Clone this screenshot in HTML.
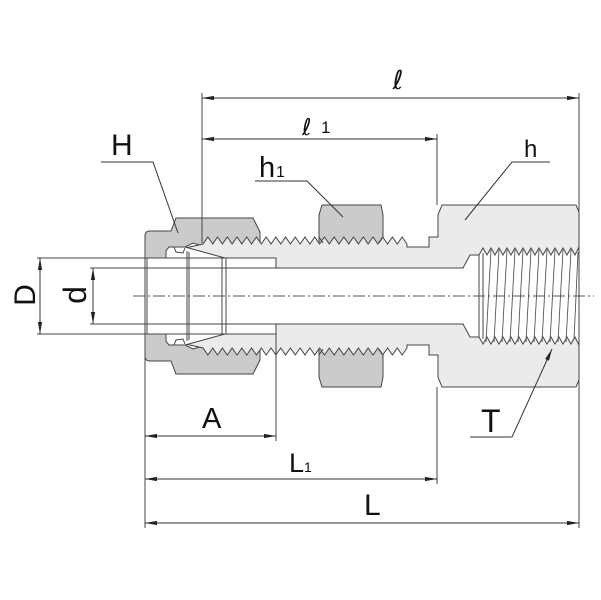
<!DOCTYPE html>
<html><head><meta charset="utf-8"><style>
html,body{margin:0;padding:0;background:#fff;}
svg{display:block;}
text{font-family:"Liberation Sans","DejaVu Sans",sans-serif;fill:#111;}
text.sc{font-family:"DejaVu Sans",sans-serif;}
</style></head><body>
<svg width="601" height="600" viewBox="0 0 601 600" xmlns="http://www.w3.org/2000/svg">
<defs>
<marker id="ar" markerUnits="userSpaceOnUse" markerWidth="12" markerHeight="6" viewBox="0 0 12 6" refX="12" refY="3" orient="auto-start-reverse">
<path d="M0,0.9 L12,3 L0,5.1 z" fill="#222"/>
</marker>
</defs>
<rect width="601" height="600" fill="#fff"/>

<!-- small nut h1 -->
<g fill="#cbcbcb" stroke="#444" stroke-width="1">
<path d="M319,244 L319,215 L322,205 L381,205 L383,215 L383,244 Z"/>
<path d="M319,348 L319,377 L322,387 L381,387 L383,377 L383,348 Z"/>
</g>

<!-- nut H -->
<g fill="#cbcbcb" stroke="#444" stroke-width="1">
<path d="M145,258 L145,236 Q145,231 150,231 L171,231 L176,218 L253,218 L260,232 L260,246 L203,246 L193,243 L185,247 L169,247 L166,251 L166,258 Z"/>
<path d="M145,334 L145,356 Q145,361 150,361 L171,361 L176,374 L253,374 L260,360 L260,346 L203,346 L193,349 L185,345 L169,345 L166,341 L166,334 Z"/>
</g>

<!-- body -->
<path fill="#ebebeb" stroke="#444" stroke-width="1" d="M185,248 L203,244 l4.857,-7 4.857,7 4.857,-7 4.857,7 4.857,-7 4.857,7 4.857,-7 4.857,7 4.857,-7 4.857,7 4.857,-7 4.857,7 4.857,-7 4.857,7 4.857,-7 4.857,7 4.857,-7 4.857,7 4.857,-7 4.857,7 4.857,-7 4.857,7 4.857,-7 4.857,7 4.857,-7 4.857,7 4.857,-7 4.857,7 4.857,-7 4.857,7 4.857,-7 4.857,7 4.857,-7 4.857,7 4.857,-7 4.857,7 4.857,-7 4.857,7 4.857,-7 4.857,7 4.857,-7 4.857,7 L407,247 L429,247 L429,237 L438,237 L438,215 L442,205 L576,205 L579,212 L579,380 L576,387 L442,387 L438,377 L438,355 L429,355 L429,345 L407,345 L407,348 l-4.857,7 -4.857,-7 -4.857,7 -4.857,-7 -4.857,7 -4.857,-7 -4.857,7 -4.857,-7 -4.857,7 -4.857,-7 -4.857,7 -4.857,-7 -4.857,7 -4.857,-7 -4.857,7 -4.857,-7 -4.857,7 -4.857,-7 -4.857,7 -4.857,-7 -4.857,7 -4.857,-7 -4.857,7 -4.857,-7 -4.857,7 -4.857,-7 -4.857,7 -4.857,-7 -4.857,7 -4.857,-7 -4.857,7 -4.857,-7 -4.857,7 -4.857,-7 -4.857,7 -4.857,-7 -4.857,7 -4.857,-7 -4.857,7 -4.857,-7 -4.857,7 -4.857,-7 L185,344 Z"/>

<!-- white interior: tube, ferrules, bore, female thread -->
<path fill="#fff" stroke="#444" stroke-width="1" d="M145,258 L166,258 L166,251 L169,247 L185,247 L225,258 L276,258 L276,268 L463,268 L470,255 L479,255 l4,-7 4,7 4,-7 4,7 4,-7 4,7 4,-7 4,7 4,-7 4,7 4,-7 4,7 4,-7 4,7 4,-7 4,7 4,-7 4,7 4,-7 4,7 4,-7 4,7 4,-7 4,7 L579,247 L579,345 L575,337 l-4,7 -4,-7 -4,7 -4,-7 -4,7 -4,-7 -4,7 -4,-7 -4,7 -4,-7 -4,7 -4,-7 -4,7 -4,-7 -4,7 -4,-7 -4,7 -4,-7 -4,7 -4,-7 -4,7 -4,-7 -4,7 -4,-7 L470,337 L463,324 L276,324 L276,334 L225,334 L185,345 L169,345 L166,341 L166,334 L145,334 Z"/>

<!-- internal lines -->
<g stroke="#444" stroke-width="1" fill="none">
<line x1="37" y1="258" x2="276" y2="258"/>
<line x1="37" y1="334" x2="276" y2="334"/>
<line x1="90" y1="268" x2="276" y2="268"/>
<line x1="90" y1="324" x2="276" y2="324"/>
<line x1="147" y1="258" x2="147" y2="334"/>
<line x1="187" y1="251" x2="187" y2="341"/>
<line x1="189" y1="252" x2="189" y2="340"/>
<line x1="222" y1="257" x2="222" y2="335"/>
<line x1="226" y1="258" x2="226" y2="334"/>
<path d="M174,247 L176,252 L183,253 L185,248"/>
<path d="M174,345 L176,340 L183,339 L185,344"/>
<line x1="479" y1="255" x2="479" y2="337"/>
<line x1="483" y1="253" x2="483" y2="339"/>
<path d="M319,237 L323,243 M383,237 L379,243 M319,355 L323,349 M383,355 L379,349"/>
</g>
<g stroke="#555" stroke-width="0.9">
<line x1="491" y1="250" x2="486" y2="342"/>
<line x1="499" y1="250" x2="494" y2="342"/>
<line x1="507" y1="250" x2="502" y2="342"/>
<line x1="515" y1="250" x2="510" y2="342"/>
<line x1="523" y1="250" x2="518" y2="342"/>
<line x1="531" y1="250" x2="526" y2="342"/>
<line x1="539" y1="250" x2="534" y2="342"/>
<line x1="547" y1="250" x2="542" y2="342"/>
<line x1="555" y1="250" x2="550" y2="342"/>
<line x1="563" y1="250" x2="558" y2="342"/>
<line x1="571" y1="250" x2="566" y2="342"/>
<line x1="578" y1="252" x2="574" y2="340"/>
</g>

<!-- centerline -->
<line x1="133" y1="296" x2="594" y2="296" stroke="#555" stroke-width="1" stroke-dasharray="12 3 2 3"/>

<!-- extension lines -->
<g stroke="#444" stroke-width="1">
<line x1="202" y1="93" x2="202" y2="243"/>
<line x1="579" y1="93" x2="579" y2="528"/>
<line x1="437" y1="134" x2="437" y2="205"/>
<line x1="437" y1="387" x2="437" y2="484"/>
<line x1="145" y1="356" x2="145" y2="528"/>
<line x1="276" y1="334" x2="276" y2="441"/>
</g>

<!-- dimension lines -->
<g stroke="#333" stroke-width="1" marker-start="url(#ar)" marker-end="url(#ar)">
<line x1="202" y1="98" x2="579" y2="98"/>
<line x1="202" y1="139" x2="437" y2="139"/>
<line x1="145" y1="436" x2="276" y2="436"/>
<line x1="145" y1="479" x2="437" y2="479"/>
<line x1="145" y1="523" x2="579" y2="523"/>
<line x1="40" y1="258" x2="40" y2="334"/>
<line x1="93" y1="268" x2="93" y2="324"/>
</g>

<!-- leaders -->
<g stroke="#333" stroke-width="1" fill="none">
<path d="M101,162 L153,162 L178,233"/>
<path d="M255,181 L307,181 L343,217"/>
<path d="M550,162 L512,162 L465,220"/>
<path d="M470,437 L512,437 L552,349" marker-end="url(#ar)"/>
</g>

<!-- labels -->
<text class="sc" x="398" y="89" font-size="26" text-anchor="middle">ℓ</text>
<text class="sc" x="302" y="135" font-size="23">ℓ</text>
<text x="321" y="133" font-size="17">1</text>
<text x="524" y="157" font-size="24">h</text>
<text x="259" y="177" font-size="29">h</text>
<text x="276" y="177" font-size="16">1</text>
<text x="111" y="155" font-size="30">H</text>
<text x="202" y="428" font-size="29">A</text>
<text x="289" y="472" font-size="27">L</text>
<text x="304" y="472" font-size="14">1</text>
<text x="364" y="515" font-size="30">L</text>
<text x="481" y="432" font-size="32">T</text>
<text transform="translate(35,295) rotate(-90)" font-size="30" text-anchor="middle">D</text>
<text transform="translate(86,295) rotate(-90)" font-size="32" text-anchor="middle">d</text>
</svg>
</body></html>
